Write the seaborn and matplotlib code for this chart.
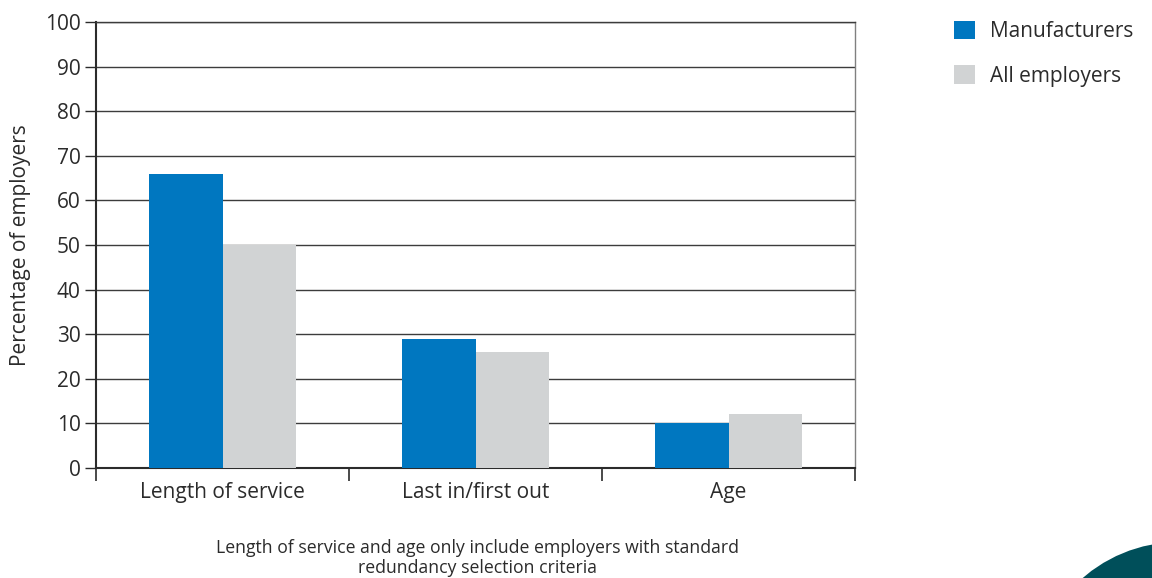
import matplotlib
matplotlib.use("Agg")
import matplotlib.pyplot as plt
from matplotlib.patches import Ellipse, Patch
import seaborn as sns
import pandas as pd

# Survey results: share of employers using each redundancy selection criterion
categories = ["Length of service", "Last in/first out", "Age"]
manufacturers = [66, 29, 10]
all_employers = [50, 26, 12]
series_names = ["Manufacturers", "All employers"]
y_ticks = [0, 10, 20, 30, 40, 50, 60, 70, 80, 90, 100]

df = pd.DataFrame({
    "criterion": categories * 2,
    "group": [series_names[0]] * 3 + [series_names[1]] * 3,
    "value": manufacturers + all_employers,
})

sns.set_theme(style="white")
plt.rcParams["font.family"] = ["Open Sans", "DejaVu Sans"]
text_color = "#2b2b2b"

fig = plt.figure(figsize=(11.52, 5.78), dpi=100)
ax = fig.add_axes([96 / 1152, 1 - 468 / 578, (855 - 96) / 1152, (468 - 22) / 578])

palette = {series_names[0]: "#0077c0", series_names[1]: "#d1d3d4"}
sns.barplot(data=df, x="criterion", y="value", hue="group", order=categories,
            hue_order=series_names, palette=palette, width=0.58,
            saturation=1, ax=ax, legend=False, zorder=3, linewidth=0)

ax.set_ylim(0, 100)
ax.set_xlim(-0.5, 2.5)
ax.set_yticks(y_ticks)
ax.set_yticklabels([str(t) for t in y_ticks], fontsize=15, color=text_color)
ax.yaxis.grid(True, color="#3c3c3c", linewidth=1, zorder=0)
ax.set_axisbelow(True)

# category labels centred, tick marks on the category boundaries
ax.set_xticks([0, 1, 2])
ax.set_xticklabels(categories, fontsize=15, color=text_color)
ax.set_xticks([-0.5, 0.5, 1.5, 2.5], minor=True)
ax.tick_params(axis="x", which="major", length=0, pad=10)
ax.tick_params(axis="x", which="minor", length=9, width=1.2, color="#2b2b2b",
               direction="out", bottom=True)
ax.tick_params(axis="y", which="major", length=8, width=1, color="#2b2b2b",
               left=True, pad=3)

ax.set_xlabel("")
ax.set_ylabel("Percentage of employers", fontsize=15, color=text_color, labelpad=10)

for side in ["left", "bottom"]:
    ax.spines[side].set_color("#2b2b2b")
    ax.spines[side].set_linewidth(1.5)
ax.spines["right"].set_color("#808080")
ax.spines["right"].set_linewidth(1)
ax.spines["top"].set_color("#3c3c3c")
ax.spines["top"].set_linewidth(1)

# legend at the top right of the figure
handles = [Patch(facecolor=palette[n], edgecolor="none") for n in series_names]
fig.legend(handles, series_names, loc="upper left",
           bbox_to_anchor=(935 / 1152, 1 - 2 / 578), frameon=False,
           fontsize=15, handlelength=1.0, handleheight=1.0,
           handletextpad=0.75, labelspacing=1.1, labelcolor=text_color)

# note below the chart
fig.text(478 / 1152, 1 - 558 / 578,
         "Length of service and age only include employers with standard\n"
         "redundancy selection criteria",
         ha="center", va="center", fontsize=12.7, color=text_color,
         linespacing=1.1)

# teal corner decoration
fig.patches.append(Ellipse((1179 / 1152, 1 - 689 / 578),
                           width=2 * 147 / 1152, height=2 * 147 / 578,
                           transform=fig.transFigure, facecolor="#004f5a",
                           edgecolor="none"))

fig.savefig("out.png", dpi=100)
